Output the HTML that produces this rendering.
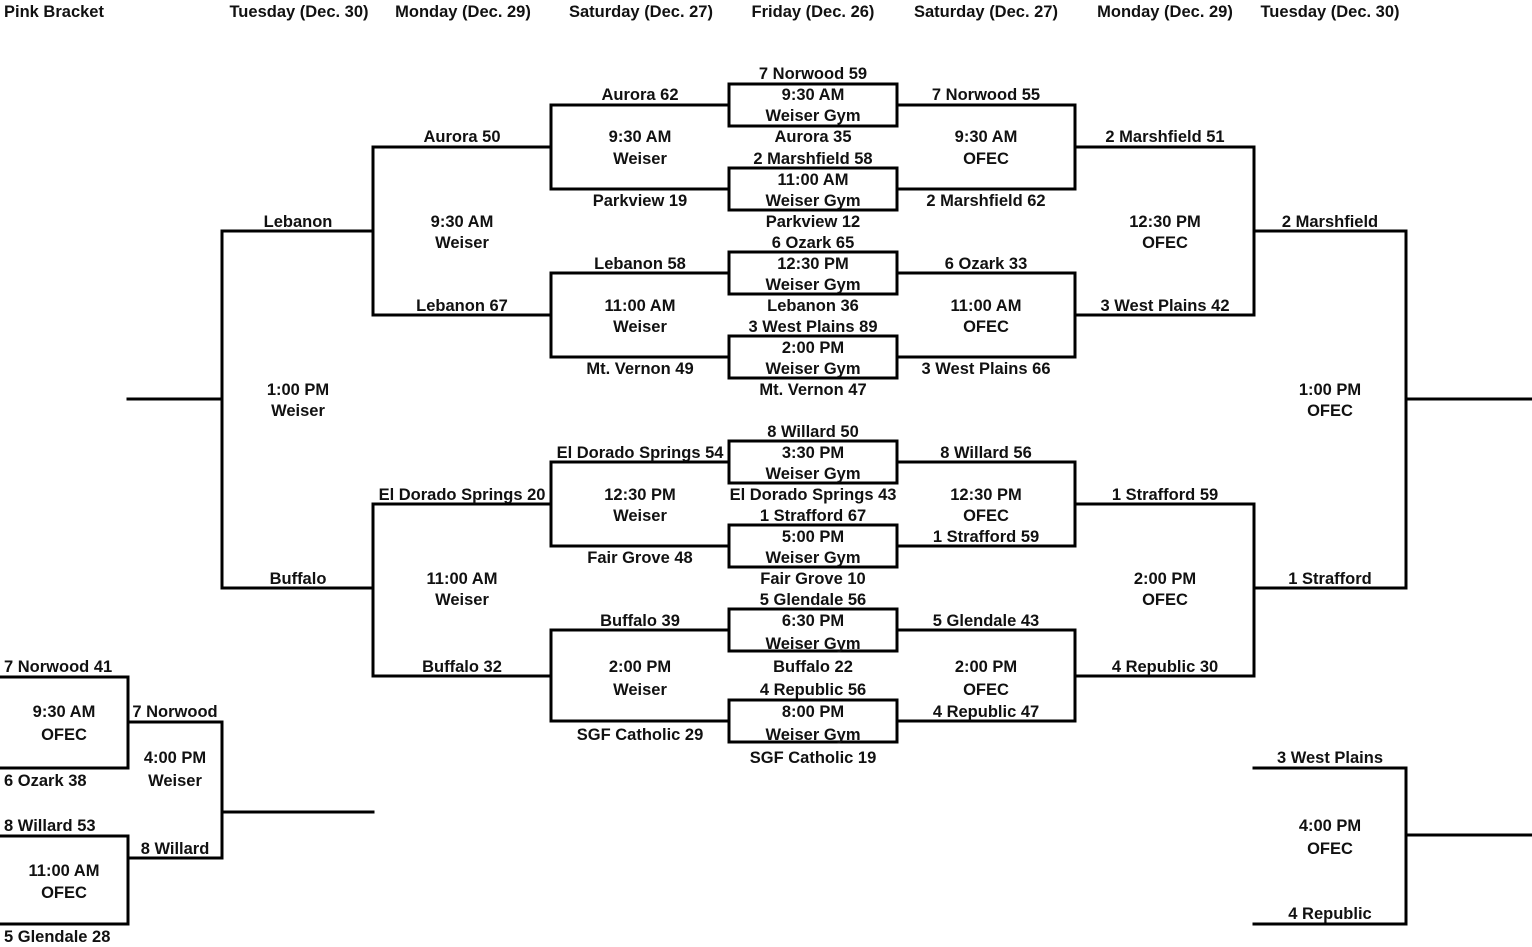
<!DOCTYPE html>
<html><head><meta charset="utf-8"><style>
html,body{margin:0;padding:0;background:#fff;}
svg{display:block;}
text{font-family:"Liberation Sans",Arial,sans-serif;font-weight:bold;font-size:16.5px;fill:#111;dominant-baseline:central;}
.c{text-anchor:middle;}
</style></head><body>
<svg width="1532" height="947" viewBox="0 0 1532 947" xmlns="http://www.w3.org/2000/svg">
<g stroke="#000" stroke-width="3" fill="none" stroke-linecap="square">
<path d="M128 399H222M373 231H222V588H373"/>
<path d="M551 147H373V315H551"/>
<path d="M551 504H373V676H551"/>
<path d="M729 105H551V189H729"/>
<path d="M729 273H551V357H729"/>
<path d="M729 462H551V546H729"/>
<path d="M729 630H551V721H729"/>
<rect x="729" y="84" width="168" height="42"/>
<rect x="729" y="168" width="168" height="42"/>
<rect x="729" y="252" width="168" height="42"/>
<rect x="729" y="336" width="168" height="42"/>
<rect x="729" y="441" width="168" height="42"/>
<rect x="729" y="525" width="168" height="42"/>
<rect x="729" y="609" width="168" height="42"/>
<rect x="729" y="700" width="168" height="42"/>
<path d="M897 105H1075V189H897M1075 147H1254"/>
<path d="M897 273H1075V357H897M1075 315H1254"/>
<path d="M897 462H1075V546H897M1075 504H1254"/>
<path d="M897 630H1075V721H897M1075 676H1254"/>
<path d="M1254 147V315M1254 231H1406"/>
<path d="M1254 504V676M1254 588H1406"/>
<path d="M1406 231V588M1406 399H1532"/>
<path d="M0 677H128V768H0M128 722H222"/>
<path d="M0 836H128V924H0M128 858H222"/>
<path d="M222 722V858M222 812H373"/>
<path d="M1254 768H1406V924H1254M1406 835H1532"/>
</g>
<g transform="translate(0,1)">
<text x="4" y="11">Pink Bracket</text>
<text class="c" x="299" y="11">Tuesday (Dec. 30)</text>
<text class="c" x="463" y="11">Monday (Dec. 29)</text>
<text class="c" x="641" y="11">Saturday (Dec. 27)</text>
<text class="c" x="813" y="11">Friday (Dec. 26)</text>
<text class="c" x="986" y="11">Saturday (Dec. 27)</text>
<text class="c" x="1165" y="11">Monday (Dec. 29)</text>
<text class="c" x="1330" y="11">Tuesday (Dec. 30)</text>

<text class="c" x="298" y="221">Lebanon</text>
<text class="c" x="298" y="389">1:00 PM</text>
<text class="c" x="298" y="410">Weiser</text>
<text class="c" x="298" y="578">Buffalo</text>

<text class="c" x="462" y="136">Aurora 50</text>
<text class="c" x="462" y="221">9:30 AM</text>
<text class="c" x="462" y="242">Weiser</text>
<text class="c" x="462" y="305">Lebanon 67</text>
<text class="c" x="462" y="494">El Dorado Springs 20</text>
<text class="c" x="462" y="578">11:00 AM</text>
<text class="c" x="462" y="599">Weiser</text>
<text class="c" x="462" y="666">Buffalo 32</text>

<text class="c" x="640" y="94">Aurora 62</text>
<text class="c" x="640" y="136">9:30 AM</text>
<text class="c" x="640" y="158">Weiser</text>
<text class="c" x="640" y="200">Parkview 19</text>
<text class="c" x="640" y="263">Lebanon 58</text>
<text class="c" x="640" y="305">11:00 AM</text>
<text class="c" x="640" y="326">Weiser</text>
<text class="c" x="640" y="368">Mt. Vernon 49</text>
<text class="c" x="640" y="452">El Dorado Springs 54</text>
<text class="c" x="640" y="494">12:30 PM</text>
<text class="c" x="640" y="515">Weiser</text>
<text class="c" x="640" y="557">Fair Grove 48</text>
<text class="c" x="640" y="620">Buffalo 39</text>
<text class="c" x="640" y="666">2:00 PM</text>
<text class="c" x="640" y="689">Weiser</text>
<text class="c" x="640" y="734">SGF Catholic 29</text>

<text class="c" x="813" y="73">7 Norwood 59</text>
<text class="c" x="813" y="94">9:30 AM</text>
<text class="c" x="813" y="115">Weiser Gym</text>
<text class="c" x="813" y="136">Aurora 35</text>
<text class="c" x="813" y="158">2 Marshfield 58</text>
<text class="c" x="813" y="179">11:00 AM</text>
<text class="c" x="813" y="200">Weiser Gym</text>
<text class="c" x="813" y="221">Parkview 12</text>
<text class="c" x="813" y="242">6 Ozark 65</text>
<text class="c" x="813" y="263">12:30 PM</text>
<text class="c" x="813" y="284">Weiser Gym</text>
<text class="c" x="813" y="305">Lebanon 36</text>
<text class="c" x="813" y="326">3 West Plains 89</text>
<text class="c" x="813" y="347">2:00 PM</text>
<text class="c" x="813" y="368">Weiser Gym</text>
<text class="c" x="813" y="389">Mt. Vernon 47</text>
<text class="c" x="813" y="431">8 Willard 50</text>
<text class="c" x="813" y="452">3:30 PM</text>
<text class="c" x="813" y="473">Weiser Gym</text>
<text class="c" x="813" y="494">El Dorado Springs 43</text>
<text class="c" x="813" y="515">1 Strafford 67</text>
<text class="c" x="813" y="536">5:00 PM</text>
<text class="c" x="813" y="557">Weiser Gym</text>
<text class="c" x="813" y="578">Fair Grove 10</text>
<text class="c" x="813" y="599">5 Glendale 56</text>
<text class="c" x="813" y="620">6:30 PM</text>
<text class="c" x="813" y="643">Weiser Gym</text>
<text class="c" x="813" y="666">Buffalo 22</text>
<text class="c" x="813" y="689">4 Republic 56</text>
<text class="c" x="813" y="711">8:00 PM</text>
<text class="c" x="813" y="734">Weiser Gym</text>
<text class="c" x="813" y="757">SGF Catholic 19</text>

<text class="c" x="986" y="94">7 Norwood 55</text>
<text class="c" x="986" y="136">9:30 AM</text>
<text class="c" x="986" y="158">OFEC</text>
<text class="c" x="986" y="200">2 Marshfield 62</text>
<text class="c" x="986" y="263">6 Ozark 33</text>
<text class="c" x="986" y="305">11:00 AM</text>
<text class="c" x="986" y="326">OFEC</text>
<text class="c" x="986" y="368">3 West Plains 66</text>
<text class="c" x="986" y="452">8 Willard 56</text>
<text class="c" x="986" y="494">12:30 PM</text>
<text class="c" x="986" y="515">OFEC</text>
<text class="c" x="986" y="536">1 Strafford 59</text>
<text class="c" x="986" y="620">5 Glendale 43</text>
<text class="c" x="986" y="666">2:00 PM</text>
<text class="c" x="986" y="689">OFEC</text>
<text class="c" x="986" y="711">4 Republic 47</text>

<text class="c" x="1165" y="136">2 Marshfield 51</text>
<text class="c" x="1165" y="221">12:30 PM</text>
<text class="c" x="1165" y="242">OFEC</text>
<text class="c" x="1165" y="305">3 West Plains 42</text>
<text class="c" x="1165" y="494">1 Strafford 59</text>
<text class="c" x="1165" y="578">2:00 PM</text>
<text class="c" x="1165" y="599">OFEC</text>
<text class="c" x="1165" y="666">4 Republic 30</text>

<text class="c" x="1330" y="221">2 Marshfield</text>
<text class="c" x="1330" y="389">1:00 PM</text>
<text class="c" x="1330" y="410">OFEC</text>
<text class="c" x="1330" y="578">1 Strafford</text>
<text class="c" x="1330" y="757">3 West Plains</text>
<text class="c" x="1330" y="825">4:00 PM</text>
<text class="c" x="1330" y="848">OFEC</text>
<text class="c" x="1330" y="913">4 Republic</text>

<text x="4" y="666">7 Norwood 41</text>
<text x="4" y="780">6 Ozark 38</text>
<text x="4" y="825">8 Willard 53</text>
<text x="4" y="936">5 Glendale 28</text>
<text class="c" x="64" y="711">9:30 AM</text>
<text class="c" x="64" y="734">OFEC</text>
<text class="c" x="64" y="870">11:00 AM</text>
<text class="c" x="64" y="892">OFEC</text>
<text class="c" x="175" y="711">7 Norwood</text>
<text class="c" x="175" y="757">4:00 PM</text>
<text class="c" x="175" y="780">Weiser</text>
<text class="c" x="175" y="848">8 Willard</text>
</g>
</svg>
</body></html>
